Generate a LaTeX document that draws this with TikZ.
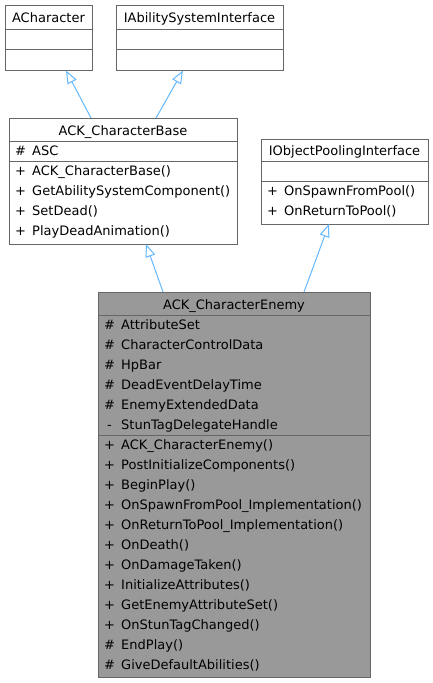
\documentclass[tikz,border=0pt]{standalone}
\usepackage{fontspec}
\setmainfont{DejaVu Sans}
\usetikzlibrary{arrows.meta}
\definecolor{edgeblue}{HTML}{63B8FF}
\definecolor{boxgray}{HTML}{666666}
\definecolor{enemyfill}{HTML}{999999}
\tikzset{
  classbox/.style={draw=boxgray, line width=1pt, fill=white, anchor=north west, inner sep=0pt, outer sep=0pt},
  classtitle/.style={anchor=base, inner sep=0pt, font=\fontsize{13}{15}\selectfont},
  memsym/.style={anchor=base, inner sep=0pt, font=\fontsize{13}{15}\selectfont},
  memname/.style={anchor=base west, inner sep=0pt, font=\fontsize{13}{15}\selectfont},
  divider/.style={draw=boxgray, line width=1pt},
  inherit/.style={draw=edgeblue, line width=1pt, -{Triangle[open, length=13pt, width=10pt]}}
}
\begin{document}
\begin{tikzpicture}[x=1pt, y=-1pt]
\useasboundingbox (0,0) rectangle (433,683);

% ACharacter
\node[classbox, minimum width=87pt, minimum height=65.5pt] (achar) at (5,5) {};
\draw[divider] (5,29) -- (92,29);
\draw[divider] (5,49) -- (92,49);
\node[classtitle] (acharT) at (48.5,22.5) {ACharacter};

% IAbilitySystemInterface
\node[classbox, minimum width=167pt, minimum height=65.5pt] (iabil) at (116,5) {};
\draw[divider] (116,29) -- (283,29);
\draw[divider] (116,49) -- (283,49);
\node[classtitle] (iabilT) at (199.5,22.5) {IAbilitySystemInterface};

% ACK_CharacterBase
\node[classbox, minimum width=228pt, minimum height=126pt] (base) at (9,118) {};
\draw[divider] (9,141) -- (237,141);
\draw[divider] (9,161) -- (237,161);
\node[classtitle] (baseT) at (123,135.3) {ACK\_CharacterBase};
\node[memsym] (baseA1s) at (20.5,155) {\#};
\node[memname] (baseA1) at (32,155) {ASC};
\foreach \s/\t [count=\i] in {+/ACK\_CharacterBase(), +/GetAbilitySystemComponent(), +/SetDead(), +/PlayDeadAnimation()} {
  \node[memsym] (baseM\i s) at (20.5,{161+20*\i-6}) {\s};
  \node[memname] (baseM\i) at (32,{161+20*\i-6}) {\t};
}

% IObjectPoolingInterface
\node[classbox, minimum width=167pt, minimum height=85pt] (iobj) at (261,139) {};
\draw[divider] (261,161) -- (428,161);
\draw[divider] (261,181) -- (428,181);
\node[classtitle] (iobjT) at (344.5,155.5) {IObjectPoolingInterface};
\foreach \s/\t [count=\i] in {+/OnSpawnFromPool(), +/OnReturnToPool()} {
  \node[memsym] (iobjM\i s) at (272.5,{181+20*\i-6}) {\s};
  \node[memname] (iobjM\i) at (284,{181+20*\i-6}) {\t};
}

% ACK_CharacterEnemy
\node[classbox, fill=enemyfill, minimum width=272pt, minimum height=385pt] (enemy) at (98,292) {};
\draw[divider] (98,315) -- (370,315);
\draw[divider] (98,435) -- (370,435);
\node[classtitle] (enemyT) at (234,309.3) {ACK\_CharacterEnemy};
\foreach \s/\t [count=\i] in {\#/AttributeSet, \#/CharacterControlData, \#/HpBar, \#/DeadEventDelayTime, \#/EnemyExtendedData, -/StunTagDelegateHandle} {
  \node[memsym] (enemyA\i s) at (109.5,{315+20*\i-6}) {\s};
  \node[memname] (enemyA\i) at (121,{315+20*\i-6}) {\t};
}
\foreach \s/\t [count=\i] in {+/ACK\_CharacterEnemy(), +/PostInitializeComponents(), +/BeginPlay(), +/OnSpawnFromPool\_Implementation(), +/OnReturnToPool\_Implementation(), +/OnDeath(), +/OnDamageTaken(), +/InitializeAttributes(), +/GetEnemyAttributeSet(), +/OnStunTagChanged(), \#/EndPlay(), \#/GiveDefaultAbilities()} {
  \node[memsym] (enemyM\i s) at (109.5,{435+20*\i-6}) {\s};
  \node[memname] (enemyM\i) at (121,{435+20*\i-6}) {\t};
}

% inheritance arrows
\draw[inherit] ([xshift=82pt]base.north west) -- ([xshift=61pt]achar.south west);
\draw[inherit] ([xshift=147pt]base.north west) -- ([xshift=67pt]iabil.south west);
\draw[inherit] ([xshift=65pt]enemy.north west) -- ([xshift=137pt]base.south west);
\draw[inherit] ([xshift=206pt]enemy.north west) -- ([xshift=68pt]iobj.south west);
\end{tikzpicture}
\end{document}
